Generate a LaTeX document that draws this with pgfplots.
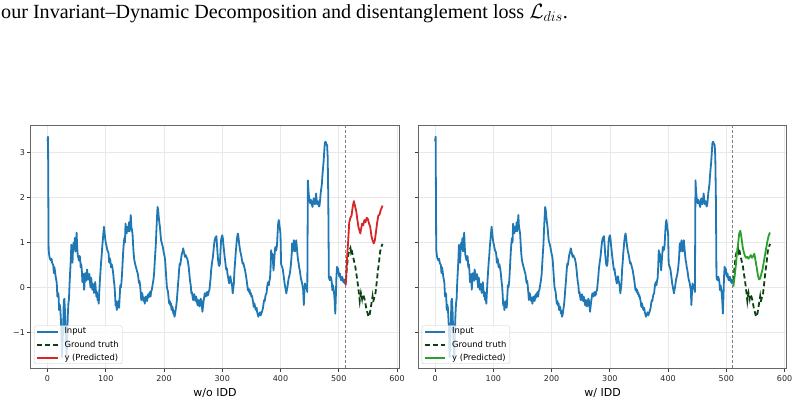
\documentclass[border=0pt]{standalone}
\usepackage{pgfplots}
\pgfplotsset{compat=1.18}
\usepackage{pgfplotstable}
\usepackage{fontspec}
\setmainfont{Liberation Serif}
\newfontfamily\dejavu{DejaVu Sans}

\definecolor{inputblue}{RGB}{31,119,180}
\definecolor{predred}{RGB}{214,39,40}
\definecolor{predgreen}{RGB}{44,160,44}
\definecolor{truthgreen}{RGB}{10,66,16}

% look-back window (512 steps)
\pgfplotstableread{
x y
0 3.25
1 3.35
2 0.85
3 0.72
4 0.65
5 0.62
6 0.60
7 0.64
8 0.55
9 0.52
10 0.50
11 0.32
12 0.45
13 0.36
14 0.25
15 0.18
16 0.10
17 -0.20
18 -0.12
19 -0.15
20 -0.50
21 -0.38
22 -0.45
23 -0.70
24 -1.00
25 -1.55
26 -1.20
27 -0.90
28 -0.30
29 -0.25
30 -0.50
31 -0.95
32 -1.30
33 -1.55
34 -1.00
35 -0.60
36 -0.35
37 -0.25
38 0.10
39 0.35
40 0.60
41 0.95
42 0.70
43 0.55
44 0.90
45 1.00
46 0.85
47 1.10
48 0.80
49 0.95
50 1.22
51 0.90
52 0.72
53 0.66
54 0.60
55 0.70
56 0.68
57 0.45
58 0.52
59 0.38
60 0.12
61 0.20
62 0.30
63 -0.05
64 0.15
65 0.32
66 0.20
67 0.15
68 0.40
69 0.28
70 0.18
71 0.26
72 0.30
73 0.12
74 0.00
75 0.22
76 0.10
77 -0.05
78 0.08
79 0.05
80 -0.12
81 0.02
82 0.12
83 -0.05
84 -0.20
85 -0.10
86 -0.28
87 -0.22
88 -0.36
89 -0.10
90 0.15
91 0.35
92 0.55
93 0.70
94 0.90
95 1.05
96 1.20
97 1.35
98 1.22
99 1.10
100 1.00
101 0.95
102 0.88
103 0.82
104 0.80
105 0.75
106 0.55
107 0.65
108 0.60
109 0.45
110 0.52
111 0.48
112 0.40
113 0.30
114 0.15
115 0.05
116 -0.15
117 -0.40
118 -0.30
119 -0.50
120 -0.42
121 -0.35
122 -0.30
123 -0.45
124 -0.20
125 0.05
126 0.00
127 0.10
128 0.30
129 0.55
130 0.80
131 0.98
132 1.10
133 1.00
134 1.42
135 1.30
136 1.20
137 1.35
138 1.30
139 1.25
140 1.45
141 1.25
142 1.40
143 1.61
144 1.35
145 1.28
146 1.20
147 0.95
148 0.75
149 0.62
150 0.55
151 0.50
152 0.45
153 0.40
154 0.35
155 0.31
156 0.22
157 0.10
158 0.15
159 0.05
160 -0.10
161 -0.28
162 -0.12
163 -0.15
164 -0.25
165 -0.30
166 -0.22
167 -0.36
168 -0.28
169 -0.20
170 -0.25
171 -0.30
172 -0.18
173 -0.15
174 -0.22
175 -0.13
176 -0.10
177 -0.20
178 -0.08
179 -0.06
180 0.02
181 0.10
182 0.18
183 0.30
184 0.53
185 0.75
186 0.95
187 1.27
188 1.55
189 1.79
190 1.72
191 1.57
192 1.45
193 1.35
194 1.20
195 1.05
196 1.00
197 0.95
198 0.90
199 0.82
200 0.75
201 0.70
202 0.60
203 0.40
204 0.20
205 0.01
206 -0.05
207 -0.10
208 -0.25
209 -0.36
210 -0.30
211 -0.40
212 -0.35
213 -0.50
214 -0.42
215 -0.45
216 -0.58
217 -0.52
218 -0.65
219 -0.60
220 -0.50
221 -0.42
222 -0.30
223 -0.13
224 0.05
225 0.20
226 0.40
227 0.53
228 0.50
229 0.60
230 0.70
231 0.76
232 0.80
233 0.87
234 0.80
235 0.75
236 0.68
237 0.72
238 0.70
239 0.66
240 0.64
241 0.58
242 0.50
243 0.38
244 0.24
245 0.12
246 0.05
247 -0.13
248 -0.10
249 -0.20
250 -0.28
251 -0.18
252 -0.15
253 -0.25
254 -0.30
255 -0.20
256 -0.25
257 -0.35
258 -0.40
259 -0.28
260 -0.30
261 -0.42
262 -0.38
263 -0.25
264 -0.28
265 -0.40
266 -0.54
267 -0.42
268 -0.30
269 -0.22
270 -0.13
271 -0.18
272 -0.20
273 -0.12
274 -0.10
275 -0.18
276 -0.15
277 -0.08
278 -0.06
279 0.08
280 0.20
281 0.39
282 0.50
283 0.60
284 0.68
285 0.82
286 0.95
287 1.05
288 1.10
289 1.12
290 1.14
291 0.95
292 0.75
293 0.60
294 0.50
295 0.48
296 0.53
297 0.80
298 1.05
299 1.12
300 1.16
301 1.10
302 0.95
303 0.83
304 0.70
305 0.60
306 0.48
307 0.39
308 0.42
309 0.30
310 0.24
311 0.15
312 0.09
313 0.18
314 0.25
315 0.15
316 0.10
317 0.02
318 -0.13
319 -0.02
320 0.10
321 0.39
322 0.55
323 0.75
324 0.90
325 1.05
326 1.15
327 1.20
328 1.10
329 0.98
330 0.88
331 0.80
332 0.75
333 0.68
334 0.60
335 0.53
336 0.55
337 0.50
338 0.44
339 0.40
340 0.32
341 0.24
342 0.15
343 0.05
344 -0.06
345 -0.02
346 -0.10
347 -0.05
348 -0.15
349 -0.12
350 -0.20
351 -0.18
352 -0.25
353 -0.32
354 -0.43
355 -0.35
356 -0.40
357 -0.48
358 -0.50
359 -0.45
360 -0.55
361 -0.60
362 -0.65
363 -0.58
364 -0.60
365 -0.55
366 -0.62
367 -0.58
368 -0.55
369 -0.50
370 -0.45
371 -0.35
372 -0.28
373 -0.30
374 -0.20
375 -0.15
376 -0.13
377 0.00
378 0.09
379 0.12
380 0.05
381 0.15
382 0.20
383 0.45
384 0.83
385 0.65
386 0.75
387 0.60
388 0.38
389 0.55
390 0.75
391 0.90
392 0.82
393 0.85
394 0.94
395 1.20
396 1.42
397 1.50
398 1.40
399 1.30
400 1.20
401 0.53
402 0.48
403 0.45
404 0.40
405 0.30
406 0.20
407 0.09
408 0.02
409 -0.05
410 -0.13
411 -0.05
412 0.01
413 0.12
414 0.20
415 0.25
416 0.31
417 0.40
418 0.53
419 0.70
420 0.98
421 0.80
422 0.90
423 1.05
424 0.90
425 0.80
426 0.95
427 1.05
428 0.90
429 0.75
430 0.62
431 0.55
432 0.45
433 0.39
434 0.30
435 0.20
436 0.15
437 0.10
438 0.02
439 -0.06
440 -0.39
441 -0.10
442 0.09
443 0.00
444 0.05
445 -0.02
446 -0.10
447 2.38
448 2.15
449 2.00
450 1.92
451 1.87
452 1.95
453 1.90
454 1.84
455 1.79
456 1.90
457 1.98
458 1.88
459 1.85
460 1.95
461 2.09
462 1.95
463 1.85
464 1.92
465 1.90
466 1.80
467 1.82
468 1.95
469 2.10
470 2.20
471 2.30
472 2.50
473 2.65
474 2.80
475 3.00
476 3.20
477 3.24
478 3.22
479 3.18
480 3.16
481 2.90
482 2.00
483 0.24
484 0.18
485 0.16
486 0.24
487 0.20
488 0.12
489 -0.06
490 0.05
491 -0.02
492 -0.13
493 -0.30
494 -0.58
495 -0.20
496 0.24
497 0.46
498 0.40
499 0.42
500 0.30
501 0.24
502 0.31
503 0.22
504 0.16
505 0.20
506 0.24
507 0.15
508 0.12
509 0.18
510 0.09
511 0.10
}\inputseries

% forecast horizon: ground truth
\pgfplotstableread{
x y
512 0.15
514 0.45
516 0.70
518 0.82
520 0.88
521 0.80
522 0.85
524 0.72
526 0.60
528 0.50
530 0.32
532 0.15
534 -0.06
536 -0.30
537 -0.20
538 -0.12
540 -0.25
541 -0.15
543 -0.20
545 -0.30
547 -0.45
549 -0.55
551 -0.65
553 -0.60
555 -0.45
557 -0.28
558 -0.20
559 -0.32
561 -0.22
563 -0.13
565 0.10
567 0.35
569 0.55
571 0.80
573 0.90
575 0.97
}\truthseries

% forecast without the decomposition
\pgfplotstableread{
x y
512 0.05
514 0.60
516 1.00
518 1.45
520 1.55
522 1.60
524 1.80
526 1.92
528 1.80
530 1.70
532 1.50
534 1.33
536 1.25
537 1.20
539 1.35
540 1.42
542 1.38
544 1.50
546 1.45
548 1.55
550 1.52
552 1.42
554 1.35
556 1.15
558 1.05
560 0.98
562 1.05
564 1.25
566 1.45
568 1.60
570 1.62
572 1.72
574 1.78
575 1.82
}\predwo

% forecast with the decomposition
\pgfplotstableread{
x y
512 0.02
514 0.23
516 0.46
518 0.75
520 0.95
522 1.20
524 1.26
526 1.10
528 0.90
530 0.78
532 0.70
534 0.66
536 0.68
538 0.64
540 0.68
542 0.72
544 0.66
546 0.70
548 0.75
550 0.60
552 0.45
554 0.28
556 0.18
558 0.20
560 0.30
562 0.40
564 0.55
566 0.70
568 0.85
570 1.00
572 1.12
574 1.20
575 1.22
}\predw

\tikzset{
  inputline/.style={draw=inputblue, line width=1.8pt, line join=round},
  truthline/.style={draw=truthgreen, line width=1.8pt, dash pattern=on 5pt off 3pt},
  redline/.style={draw=predred, line width=1.8pt, line join=round},
  greenline/.style={draw=predgreen, line width=1.8pt, line join=round},
  cutline/.style={draw=black!50, line width=0.8pt, dash pattern=on 3pt off 2pt},
}

\pgfplotsset{
  forecast/.style={
    scale only axis, width=368.5pt, height=242.6pt,
    xmin=-28.75, xmax=603.75, ymin=-1.795, ymax=3.595,
    xtick={0,100,200,300,400,500,600},
    xticklabels={0,100,200,300,400,500,600},
    ytick={-1,0,1,2,3},
    tick align=outside, xtick pos=bottom, ytick pos=left,
    major tick length=3.5pt,
    tick style={black!75, line width=0.7pt},
    axis line style={black!60, line width=0.9pt},
    grid=major, grid style={black!9, line width=0.6pt},
    tick label style={font=\dejavu\fontsize{8}{9.5}\selectfont, text=black!85},
    yticklabel style={xshift=1.2pt},
    xlabel style={font=\dejavu\fontsize{11}{13}\selectfont, at={(0.5,0)}, anchor=center, yshift=-25pt},
    legend cell align=left,
    legend style={at={(0.009,0.018)}, anchor=south west,
      font=\dejavu\fontsize{8.4}{10}\selectfont,
      draw=black!20, rounded corners=2pt, fill=white, fill opacity=0.8, text opacity=1,
      inner xsep=2pt, inner ysep=1.5pt, row sep=4pt,
      nodes={inner ysep=0.6pt, inner xsep=1.5pt}},
    legend image code/.code={%
      \draw[##1] (0pt,0pt) -- (20.5pt,0pt);
      \path (25pt,0pt);},
  },
}

\begin{document}
\begin{tikzpicture}
\useasboundingbox (0,0) rectangle (799pt,404pt);

\node[anchor=base west, inner sep=0pt, font=\fontsize{20.1}{24}\selectfont]
  at (1pt,385.6pt) {our Invariant--Dynamic Decomposition and disentanglement loss $\mathcal{L}_{dis}$.};

\begin{axis}[forecast, at={(30.7pt,35.7pt)}, anchor=south west,
  yticklabels={−1,0,1,2,3}, xlabel={w/o IDD}]
  \addplot[cutline, forget plot] coordinates {(511,-3) (511,5)};
  \addplot[inputline] table {\inputseries};
  \addlegendentry{Input}
  \addplot[truthline] table {\truthseries};
  \addlegendentry{Ground truth}
  \addplot[redline] table {\predwo};
  \addlegendentry{y (Predicted)}
\end{axis}

\begin{axis}[forecast, at={(418.3pt,35.7pt)}, anchor=south west,
  yticklabels={}, xlabel={w/ IDD}]
  \addplot[cutline, forget plot] coordinates {(511,-3) (511,5)};
  \addplot[inputline] table {\inputseries};
  \addlegendentry{Input}
  \addplot[truthline] table {\truthseries};
  \addlegendentry{Ground truth}
  \addplot[greenline] table {\predw};
  \addlegendentry{y (Predicted)}
\end{axis}
\end{tikzpicture}
\end{document}
